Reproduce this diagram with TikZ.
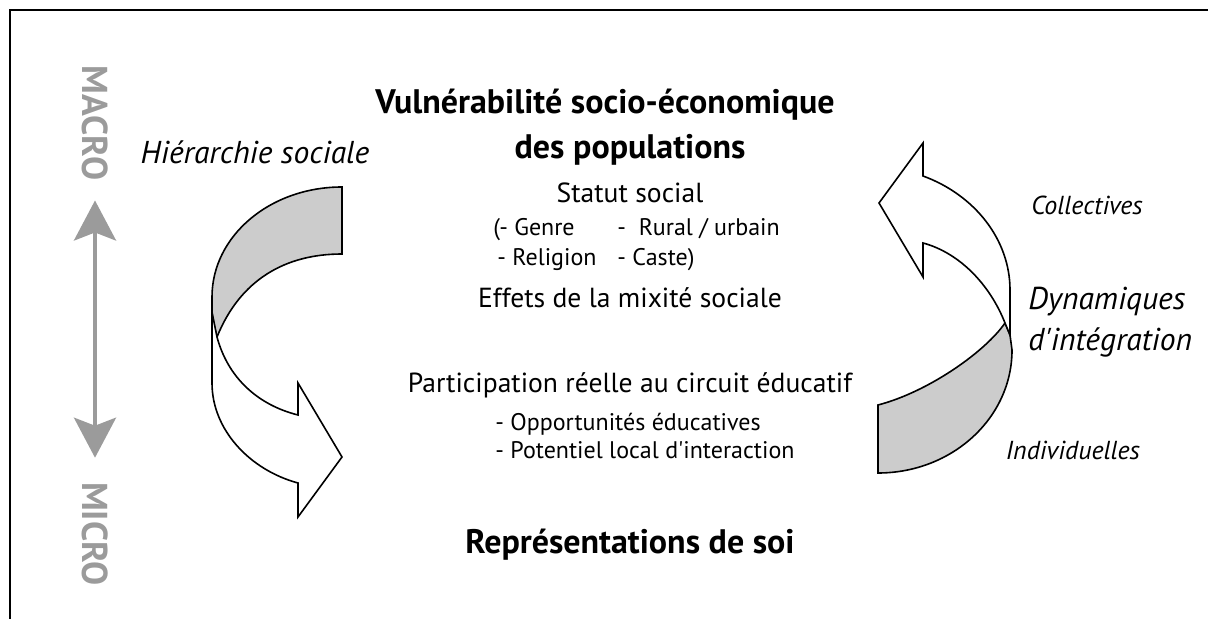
\documentclass[tikz,border=0pt]{standalone}
\usepackage{fontspec}
\setmainfont{PT Sans}
\usepackage{tikz}
\usetikzlibrary{arrows.meta, positioning}
\definecolor{ribbongray}{HTML}{CCCCCC}
\definecolor{scalegray}{HTML}{9B9B9B}
\tikzset{
  backband/.style={draw=black, fill=ribbongray, line width=0.8pt, line join=miter},
  frontband/.style={draw=black, fill=white, line width=0.8pt, line join=miter},
  scalelabel/.style={text=scalegray, font=\bfseries\fontsize{18}{18}\selectfont,
                     rotate=-90, inner sep=0pt},
  scalearrow/.style={{Stealth[length=20pt, width=21pt, inset=4pt]}-{Stealth[length=20pt, width=21pt, inset=4pt]},
                     draw=scalegray, line width=2pt, shorten <=10pt, shorten >=12pt},
  mainhead/.style={font=\bfseries\fontsize{17}{20}\selectfont, inner sep=0pt},
  theme/.style={font=\fontsize{13.8}{16}\selectfont, inner sep=0pt},
  detail/.style={font=\fontsize{12}{14}\selectfont, align=left, inner sep=0pt},
  dynlabel/.style={font=\itshape\fontsize{13}{15}\selectfont, inner sep=0pt},
  biglabel/.style={font=\itshape\fontsize{15.8}{20.5}\selectfont, align=left, inner sep=0pt}
}

\begin{document}
\begin{tikzpicture}[x=0.5pt, y=-0.5pt]
  \useasboundingbox (0,0) rectangle (1208,619);
  \draw[line width=1pt] (10,619) -- (10,10) -- (1208,10);

  % macro / micro scale
  \node[scalelabel] (macro) at (95,123) {MACRO};
  \node[scalelabel] (micro) at (95,534) {MICRO};
  \draw[scalearrow] (macro) -- (micro);

  % central texts
  \node[mainhead] (vulne) at (605,105) {Vulnérabilité socio-économique};
  \node[mainhead] (pop) at (630,150) {des populations};
  \node[theme] (statut) at (630,193) {Statut social};
  \node[detail, anchor=west] (genre) at (493,230) {\makebox[62pt][l]{(- Genre}-\ \ Rural / urbain};
  \node[detail, anchor=west] (relig) at (497,260) {\makebox[60pt][l]{- Religion}- Caste)};
  \node[theme] (mixite) at (630,298) {Effets de la mixité sociale};
  \node[theme] (partic) at (630,385) {Participation réelle au circuit éducatif};
  \node[detail, anchor=west] (oppo) at (495,436) {- Opportunités éducatives\\- Potentiel local d\textquotesingle interaction};
  \node[mainhead] (soi) at (630,545) {Représentations de soi};

  % side labels
  \node[biglabel] (hier) at (255,152) {Hiérarchie sociale};
  \node[dynlabel] (collect) at (1087,205) {Collectives};
  \node[biglabel, anchor=west] (dyn) at (1028,322) {Dynamiques\\d\textquotesingle intégration};
  \node[dynlabel] (indiv) at (1073,450) {Individuelles};

  % left ribbon arrow
  \draw[backband] (342,187) .. controls (270,187) and (212,236) .. (212,297)
    -- (212,318) -- (217,337) .. controls (240,280) and (285,254) .. (342,254) -- cycle;
  \draw[frontband] (217,337) .. controls (228,378) and (258,405) .. (298,415)
    -- (298,383) -- (342,457) -- (298,517) -- (298,483)
    .. controls (250,470) and (212,430) .. (212,383) -- (212,312) -- cycle;

  % right ribbon arrow
  \draw[backband] (1005,323) .. controls (985,352) and (928,392) .. (878,405)
    -- (878,473) .. controls (952,473) and (1012,418) .. (1012,350) -- (1010,335) -- cycle;
  \draw[frontband] (879,203) -- (923,143) -- (923,176)
    .. controls (975,195) and (1010,240) .. (1010,290) -- (1010,335) -- (1005,323)
    .. controls (990,285) and (960,253) .. (923,243) -- (923,277) -- cycle;
\end{tikzpicture}
\end{document}
